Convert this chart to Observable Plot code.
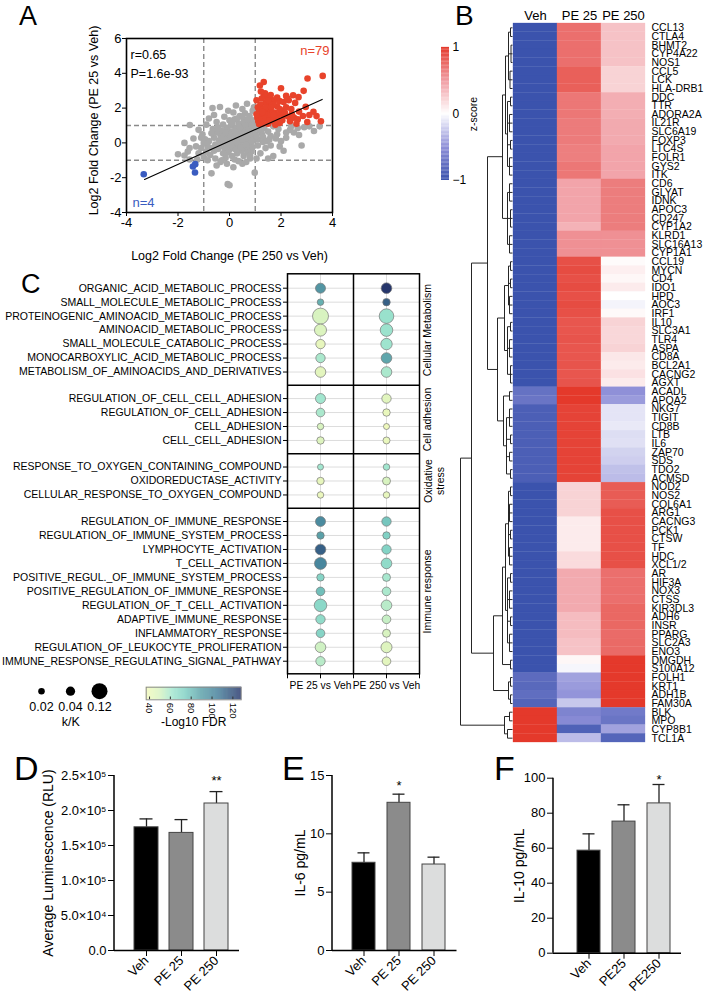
<!DOCTYPE html>
<html>
<head>
<meta charset="utf-8">
<script src="https://cdn.jsdelivr.net/npm/d3@7"></script>
<script src="https://cdn.jsdelivr.net/npm/@observablehq/plot@0.6"></script>
<style>
  html, body { margin: 0; padding: 0; background: #fff; }
  #fig { position: relative; width: 705px; height: 1000px; overflow: hidden; }
</style>
</head>
<body>
<div id="fig"></div>
<script>
// ---------- A: fold-change scatter ----------
const grayPoints = [
  [0.0,0.0],[0.2,0.1],[0.4,0.3],[0.6,0.5],[0.8,0.7],[0.1,0.4],[0.3,0.6],[0.5,0.8],[0.7,0.9],[0.9,0.4],
  [-0.1,0.2],[-0.3,-0.1],[-0.2,-0.3],[0.0,-0.4],[0.2,-0.2],[0.4,-0.1],[0.6,0.1],[0.8,0.2],[1.0,0.5],[0.95,0.85],
  [0.75,0.35],[0.55,0.15],[0.35,-0.05],[0.15,-0.3],[-0.05,-0.55],[-0.25,-0.6],[-0.45,-0.35],[-0.55,-0.1],[-0.4,0.15],[-0.2,0.35],
  [0.05,0.65],[0.25,0.85],[0.45,0.95],[0.65,0.75],[0.85,0.55],[0.3,0.2],[0.5,0.4],[0.7,0.6],[0.1,-0.1],[-0.1,-0.15],
  [0.15,0.25],[0.45,0.55],[0.62,0.28],[0.82,-0.05],[0.95,0.15],[0.25,0.45],[-0.35,0.45],[-0.6,0.3],[-0.7,-0.3],[-0.8,0.1],
  [0.05,1.0],[0.35,1.1],[0.55,1.25],[0.75,1.1],[0.9,1.3],[0.2,1.35],[-0.1,0.85],[-0.3,0.7],[0.68,-0.3],[0.48,-0.45],
  [0.3,-0.6],[0.1,-0.75],[-0.15,-0.85],[0.55,-0.75],[0.85,-0.5],[0.78,1.55],[0.6,1.7],[0.4,1.55],[0.15,1.75],[0.92,1.05],
  [0.98,0.98],[-0.5,0.6],[-0.65,0.8],[-0.95,0.2],[-0.9,-0.5],[-1.1,-0.3],[-1.05,0.5],[-0.75,-0.7],[-0.55,-0.9],[-0.35,-1.1],
  [-0.66,2.0],[-0.37,2.06],[0.25,2.15],[0.68,2.25],[0.5,1.95],[0.9,1.85],[-0.2,1.5],[0.0,1.3],[-0.5,1.2],[-0.9,1.05],
  [-1.54,1.03],[-1.2,0.75],[-0.8,1.4],[0.95,2.05],[-0.05,1.85],
  [-1.75,0.0],[-1.62,-0.5],[-2.0,-0.65],[-1.75,-0.72],[-1.55,-0.3],[-1.2,-0.6],[-1.3,-0.2],[-1.1,0.3],[-1.4,0.25],[-1.0,-0.8],
  [-1.25,-0.95],[-1.55,-0.95],[-0.85,-1.0],
  [-0.7,-1.75],[0.98,-1.71],[-0.07,-2.37],[0.0,-2.43],[0.5,-1.2],[-0.3,-1.0],[0.2,-0.95],[-0.5,-1.3],[0.35,-1.05],[0.8,-0.9],
  [0.65,-1.1],[-0.1,-1.2],[0.15,-1.4],
  [2.8,-0.15],[2.1,-0.45],[1.7,-0.75],[1.5,-0.9],[3.28,0.68],[2.9,0.9],[2.5,0.6],[2.2,0.3],[1.9,0.8],[1.6,0.4],
  [1.4,-0.3],[1.2,-0.6],[1.05,-0.9],[1.1,0.2],[1.25,0.55],[1.35,0.85],[1.5,0.65],[1.7,0.95],[1.85,0.5],[2.0,0.1],
  [2.35,0.75],[2.65,0.85],[3.1,0.95],[1.3,0.05],[1.15,0.75],[1.45,0.1],[1.6,-0.15],[1.8,0.25],[2.4,0.95],[1.95,-0.2],
  [1.05,0.4],[1.2,0.95],[2.7,0.45],[3.5,0.95],
  [0.3,0.0],[0.5,0.2],[0.7,0.4],[0.9,0.6],[0.15,0.55],[0.35,0.75],[0.55,0.6],[0.75,0.8],[0.85,1.0],[0.6,1.05],
  [0.4,0.85],[0.2,0.7],[0.0,0.5],[-0.2,0.05],[-0.4,-0.2],[-0.6,-0.45],[-0.3,0.25],[-0.15,0.6],[0.05,0.2],[0.25,-0.4],
  [0.45,-0.25],[0.65,-0.1],[0.85,0.1],[0.9,-0.25],[0.7,-0.55],[-0.85,-0.2],[-1.0,0.0],[-0.7,0.55],[-0.45,0.9],[-0.25,1.05],
  [0.3,1.4],[0.7,1.35],[0.5,1.5],[0.1,1.15],[-0.6,1.6],[0.8,-0.75],[1.1,-0.15],[1.3,0.35],[1.55,0.2],[2.2,0.6]
];
const upPoints = [
  [3.62,3.85],[3.03,3.70],[1.33,3.50],[1.18,3.30],[2.00,3.14],[2.88,2.99],[2.47,2.74],[2.20,2.70],[2.68,2.63],[1.33,2.70],
  [1.45,2.62],[1.25,2.55],[1.60,2.50],[1.75,2.45],[1.95,2.40],[2.10,2.35],[2.30,2.45],[2.55,2.30],[2.96,2.07],[3.26,1.79],
  [3.38,1.54],[3.55,1.24],[3.02,1.20],[2.85,1.55],[2.70,1.80],[2.40,1.95],[2.20,2.05],[2.05,1.85],[1.85,2.10],[1.70,2.20],
  [1.55,2.25],[1.40,2.30],[1.20,2.20],[1.10,2.05],[1.15,1.85],[1.30,1.95],[1.45,1.90],[1.60,1.85],[1.75,1.75],[1.90,1.65],
  [2.10,1.55],[2.30,1.50],[2.50,1.45],[2.65,1.35],[2.35,1.25],[2.05,1.30],[1.85,1.40],[1.65,1.50],[1.50,1.60],[1.35,1.65],
  [1.20,1.55],[1.08,1.45],[1.12,1.25],[1.25,1.35],[1.40,1.40],[1.55,1.30],[1.70,1.25],[1.95,1.15],[1.50,1.10],[1.30,1.12],
  [1.15,1.08],[1.05,1.65],[1.85,2.60],[1.42,2.05],[1.62,2.05],[1.28,1.78],[1.95,1.95],[2.15,1.75],[1.78,1.05],[2.60,1.10],
  [3.10,1.60],[2.25,2.55],[1.05,2.45],[1.38,2.85],[1.60,2.75],[2.42,1.65],[1.72,1.60],[1.50,2.45],[1.22,2.95]
];
const downPoints = [[-3.33,-1.80],[-1.42,-1.36],[-1.33,-1.22],[-1.34,-1.70]];
const foldCutoffs = [-1, 1];
const fit = {slope: 0.667, intercept: 0.1, r: "0.65", p: "1.6e-93"};
const fitEnds = [-3.3, 3.6];

// ---------- B: z-score heatmap ----------
const conditions = ["Veh", "PE 25", "PE 250"];
const genes = ["CCL13","CTLA4","BHMT2","CYP4A22","NOS1","CCL5","LCK","HLA-DRB1","DDC","TTR",
  "ADORA2A","IL21R","SLC6A19","FOXP3","LTC4S","FOLR1","GYS2","ITK","CD6","GLYAT",
  "IDNK","APOC3","CD247","CYP1A2","KLRD1","SLC16A13","CYP1A1","CCL19","MYCN","CD4",
  "IDO1","HPD","AOC3","IRF1","IL10","SLC3A1","TLR4","ASPA","CD8A","BCL2A1",
  "CACNG2","AGXT","ACADL","APOA2","NKG7","TIGIT","CD8B","LTB","IL6","ZAP70",
  "SDS","TDO2","ACMSD","NOD2","NOS2","COL6A1","ARG1","CACNG3","PCK1","CTSW",
  "TF","HDC","XCL1/2","AR","HIF3A","NOX3","CTSS","KIR3DL3","ADH6","INSR",
  "PPARG","SLC2A3","ENO3","DMGDH","S100A12","FOLH1","KRT1","ADH1B","FAM30A","BLK",
  "MPO","CYP8B1","TCL1A"];
const vehZ = [
  -1,-1,-1,-1,-1,-1,-1,-1,-1,-1,
  -1,-1,-1,-1,-1,-1,-1,-1,-1,-1,
  -1,-1,-1,-1,-1,-1,-1,-1,-1,-1,
  -1,-1,-1,-1,-1,-1,-1,-1,-1,-1,
  -1,-1,-0.75,-0.72,-0.9,-0.9,-0.9,-0.9,-0.9,-0.9,
  -0.9,-0.9,-0.9,-1,-1,-1,-1,-1,-1,-1,
  -1,-1,-1,-1,-1,-1,-1,-1,-1,-1,
  -1,-1,-1,-1,-1,-0.8,-0.82,-0.78,-0.86,1,
  1,1,1];
const pe25Z = [
  0.72,0.72,0.72,0.72,0.72,0.8,0.8,0.8,0.68,0.68,
  0.68,0.66,0.66,0.66,0.64,0.64,0.68,0.68,0.45,0.45,
  0.45,0.45,0.45,0.38,0.55,0.55,0.55,0.88,0.9,0.88,
  0.9,0.88,0.9,0.88,0.85,0.85,0.86,0.85,0.85,0.86,
  0.85,0.86,1,1,0.95,0.95,0.95,0.95,0.95,0.95,
  0.95,0.95,0.95,0.22,0.22,0.22,0.22,0.1,0.1,0.1,
  0.1,0.18,0.18,0.42,0.42,0.42,0.42,0.42,0.33,0.33,
  0.33,0.3,0.3,0.04,-0.04,-0.42,-0.45,-0.48,-0.25,-0.6,
  -0.55,-0.88,-0.3];
const pe250Z = [
  0.3,0.3,0.3,0.3,0.3,0.22,0.22,0.22,0.4,0.4,
  0.4,0.42,0.42,0.42,0.45,0.45,0.45,0.45,0.65,0.65,
  0.65,0.65,0.65,0.65,0.55,0.55,0.55,0.02,0.08,0.04,
  0.1,0.0,-0.05,0.03,0.22,0.2,0.2,0.22,0.12,0.1,
  0.15,0.1,-0.5,-0.45,-0.12,-0.12,-0.1,-0.15,-0.14,-0.2,
  -0.22,-0.28,-0.3,0.82,0.82,0.82,0.88,0.88,0.88,0.88,
  0.88,0.88,0.88,0.72,0.72,0.72,0.72,0.76,0.76,0.76,
  0.74,0.75,0.75,1,1,1,1,1,1,-0.68,
  -0.72,-0.42,-0.85];
// Row clustering: [merge height, ...children]; leaves are row indices
const rowTree = [52,
  [41,
    [25,
      [10,
        [7, [4, [2,0,1], [1.5,2,3,4], [2.5,5,6,7]],
            [5, [2,8,9], [3,10,11,12], [2,13,14], [3,15,16,17]]],
        [5, [3,18,19,20], [2,21,22,23], [3,24,25,26]]],
      [15,
        [8, [4, [2,27,28], [2,29,30], [3,31,32,33]],
            [5, [2,34,35], [3,36,37,38], [2,39,40,41]]],
        [9, [3,42,43], [6, [3,44,45,46], [2,47,48], [3,49,50], [2,51,52]]]]],
    [19,
      [10,
        [7, [4, [2,53,54], [3,55,56,57], [2,58,59], [3,60,61,62]],
            [5, [2,63,64], [3,65,66,67], [2,68,69], [3,70,71,72]]],
        [2,73,74]],
      [4, [2,75,76], [2,77,78]]]],
  [8, [3,79,80], [5,81,82]]];
const zTicks = [1, 0, -1];

// ---------- C: enrichment dot plot ----------
const goTerms = [
  "ORGANIC_ACID_METABOLIC_PROCESS",
  "SMALL_MOLECULE_METABOLIC_PROCESS",
  "PROTEINOGENIC_AMINOACID_METABOLIC_PROCESS",
  "AMINOACID_METABOLIC_PROCESS",
  "SMALL_MOLECULE_CATABOLIC_PROCESS",
  "MONOCARBOXYLIC_ACID_METABOLIC_PROCESS",
  "METABOLISM_OF_AMINOACIDS_AND_DERIVATIVES",
  "REGULATION_OF_CELL_CELL_ADHESION",
  "REGULATION_OF_CELL_ADHESION",
  "CELL_ADHESION",
  "CELL_CELL_ADHESION",
  "RESPONSE_TO_OXYGEN_CONTAINING_COMPOUND",
  "OXIDOREDUCTASE_ACTIVITY",
  "CELLULAR_RESPONSE_TO_OXYGEN_COMPOUND",
  "REGULATION_OF_IMMUNE_RESPONSE",
  "REGULATION_OF_IMMUNE_SYSTEM_PROCESS",
  "LYMPHOCYTE_ACTIVATION",
  "T_CELL_ACTIVATION",
  "POSITIVE_REGUL._OF_IMMUNE_SYSTEM_PROCESS",
  "POSITIVE_REGULATION_OF_IMMUNE_RESPONSE",
  "REGULATION_OF_T_CELL_ACTIVATION",
  "ADAPTIVE_IMMUNE_RESPONSE",
  "INFLAMMATORY_RESPONSE",
  "REGULATION_OF_LEUKOCYTE_PROLIFERATION",
  "IMMUNE_RESPONSE_REGULATING_SIGNAL_PATHWAY"];
const goGroups = ["Cellular Metabolism", "Cell adhesion", "Oxidative\nstress", "Immune response"];
const goGroupSizes = [7, 4, 3, 11];
const comparisons = ["PE 25 vs Veh", "PE 250 vs Veh"];
const kRatio25 = [0.047,0.020,0.12,0.068,0.041,0.041,0.053, 0.047,0.035,0.020,0.026, 0.017,0.026,0.020,
  0.047,0.026,0.053,0.068,0.026,0.035,0.074,0.041,0.035,0.053,0.041];
const kRatio250 = [0.053,0.026,0.10,0.074,0.061,0.053,0.053, 0.041,0.026,0.017,0.023, 0.020,0.030,0.020,
  0.041,0.026,0.041,0.053,0.030,0.035,0.053,0.035,0.030,0.057,0.035];
const fdr25 = [95,85,50,48,43,60,45, 62,60,50,47, 62,43,41, 100,90,115,102,72,80,70,68,72,52,57];
const fdr250 = [128,115,65,64,63,88,60, 46,42,40,42, 62,50,43, 78,74,73,68,61,60,57,54,50,47,45];
const sizeKeys = [0.02, 0.04, 0.12];
const fdrTicks = [40, 60, 80, 100, 120];

// ---------- D, E, F: bar charts ----------
const lumGroups = ["Veh", "PE 25", "PE 250"];
const lumMean = [1.76e5, 1.68e5, 2.10e5];
const lumSem = [0.12e5, 0.19e5, 0.17e5];
const lumSig = ["", "", "**"];
const il6Groups = ["Veh", "PE 25", "PE 250"];
const il6Mean = [7.52, 12.66, 7.37];
const il6Sem = [0.85, 0.74, 0.63];
const il6Sig = ["", "*", ""];
const il10Groups = ["Veh", "PE25", "PE250"];
const il10Mean = [58.6, 75.2, 85.6];
const il10Sem = [9.6, 9.6, 10.8];
const il10Sig = ["", "", "*"];
const barShades = ["#000000", "#8b8b8b", "#dcdddd"];

// ---------- shared settings ----------
const FONT = '"Liberation Sans", Arial, Helvetica, sans-serif';
const baseStyle = {fontFamily: FONT, background: "transparent", overflow: "visible", color: "black"};
const fig = document.getElementById("fig");
function place(node, left, top) {
  node.style.position = "absolute";
  node.style.left = left + "px";
  node.style.top = top + "px";
  node.style.margin = "0";
  fig.appendChild(node);
  return node;
}
const zColor = {type: "linear", domain: [-1, -0.5, 0, 0.5, 1],
  range: ["#3b53ad", "#8f90d8", "#ffffff", "#f09aa0", "#e4392b"], clamp: true};
const fdrColor = {type: "linear", domain: [37, 50, 62, 75, 90, 105, 128],
  range: ["#f4f9bb", "#d8f3c0", "#a2e6cf", "#7dcfc3", "#5aa0a8", "#44809a", "#26366b"], clamp: true};
const rScale = {type: "sqrt", domain: [0, 0.12], range: [0, 8]};

// ---------- A ----------
place(Plot.plot({
  width: 355, height: 270,
  marginLeft: 126, marginRight: 23, marginTop: 38, marginBottom: 58,
  style: {...baseStyle, fontSize: "13px"},
  x: {domain: [-4, 4]},
  y: {domain: [-4, 6]},
  marks: [
    Plot.ruleX(foldCutoffs, {stroke: "#8a8a8a", strokeWidth: 1.4, strokeDasharray: "5,3"}),
    Plot.ruleY(foldCutoffs, {stroke: "#8a8a8a", strokeWidth: 1.4, strokeDasharray: "5,3"}),
    Plot.dot(grayPoints, {x: d => d[0], y: d => d[1], r: 3.3, fill: "#a9a9a9"}),
    Plot.dot(upPoints, {x: d => d[0], y: d => d[1], r: 3.3, fill: "#e8432b"}),
    Plot.dot(downPoints, {x: d => d[0], y: d => d[1], r: 3.3, fill: "#3a5cc0"}),
    Plot.line(fitEnds, {x: d => d, y: d => fit.slope * d + fit.intercept, stroke: "black", strokeWidth: 1.1}),
    Plot.frame({stroke: "black", strokeWidth: 1.6}),
    Plot.axisX({ticks: [-4, -2, 0, 2, 4], tickFormat: d => String(d), tickSize: 4, tickPadding: 1, fontSize: 13, label: null}),
    Plot.axisY({ticks: [-4, -2, 0, 2, 4, 6], tickFormat: d => String(d), tickSize: 4, tickPadding: 1, fontSize: 13, label: null}),
    Plot.text(["Log2 Fold Change (PE 250 vs Veh)"], {text: d => d, frameAnchor: "bottom", dy: 43, lineAnchor: "middle", fontSize: 12.5}),
    Plot.text(["Log2 Fold Change (PE 25 vs Veh)"], {text: d => d, frameAnchor: "left", dx: -33, dy: -5, rotate: -90, textAnchor: "middle", lineAnchor: "middle", fontSize: 12.5}),
    Plot.text(["r=" + fit.r], {text: d => d, frameAnchor: "top-left", dx: 4, dy: 16.7, lineAnchor: "middle", fontSize: 12.5}),
    Plot.text(["P=" + fit.p], {text: d => d, frameAnchor: "top-left", dx: 4, dy: 35.2, lineAnchor: "middle", fontSize: 12.5}),
    Plot.text(["n=" + upPoints.length], {text: d => d, frameAnchor: "top-right", dx: -3, dy: 12, lineAnchor: "middle", fill: "#e8432b", fontSize: 13}),
    Plot.text(["n=" + downPoints.length], {text: d => d, frameAnchor: "bottom-left", dx: 6, dy: -10, lineAnchor: "middle", fill: "#3a5cc0", fontSize: 13})
  ]
}), 0, 0);

// ---------- B: heatmap ----------
const heatCells = genes.flatMap((g, i) => [
  {gene: g, cond: conditions[0], z: vehZ[i]},
  {gene: g, cond: conditions[1], z: pe25Z[i]},
  {gene: g, cond: conditions[2], z: pe250Z[i]}
]);
place(Plot.plot({
  width: 355, height: 760,
  marginLeft: 162, marginRight: 59, marginTop: 23, marginBottom: 18,
  style: {...baseStyle, fontSize: "10.5px"},
  x: {domain: conditions, padding: 0},
  y: {domain: genes, padding: 0},
  color: zColor,
  marks: [
    Plot.cell(heatCells, {x: "cond", y: "gene", fill: "z", stroke: "z", strokeWidth: 0.3}),
    Plot.axisX({anchor: "top", tickSize: 0, tickPadding: 4, fontSize: 13, label: null}),
    Plot.axisY({anchor: "right", tickSize: 0, tickPadding: 5, fontSize: 10.5, label: null})
  ]
}), 350, 0);

// dendrogram segments from the nested cluster tree
const dendroSegs = [];
function walk(node) {
  if (typeof node === "number") return {h: 0, y: node + 0.5};
  const [h, ...kids] = node;
  const laid = kids.map(walk);
  const ys = laid.map(k => k.y);
  const y0 = d3.min(ys), y1 = d3.max(ys);
  dendroSegs.push({x1: h, x2: h, y1: y0, y2: y1});
  laid.forEach(k => dendroSegs.push({x1: k.h, x2: h, y1: k.y, y2: k.y}));
  return {h, y: (y0 + y1) / 2};
}
walk(rowTree);
place(Plot.plot({
  width: 72, height: 760,
  marginLeft: 20, marginRight: 0, marginTop: 23, marginBottom: 18,
  style: baseStyle,
  x: {domain: [52, 0], axis: null},
  y: {domain: [0, genes.length], reverse: true, axis: null},
  marks: [
    Plot.link(dendroSegs, {x1: "x1", x2: "x2", y1: "y1", y2: "y2", stroke: "#262626", strokeWidth: 1})
  ]
}), 440, 0);

// z-score colour bar
const zRamp = d3.range(-1, 1, 0.02);
place(Plot.plot({
  width: 70, height: 150,
  marginLeft: 11, marginRight: 51, marginTop: 7, marginBottom: 10,
  style: {...baseStyle, fontSize: "12px"},
  x: {domain: [0, 1], axis: null},
  y: {domain: [-1, 1], axis: null},
  color: zColor,
  marks: [
    Plot.rect(zRamp, {x1: 0, x2: 1, y1: d => d, y2: d => d + 0.022, fill: d => d + 0.01}),
    Plot.text(zTicks, {x: 1, y: d => d, text: d => d < 0 ? "\u2212" + Math.abs(d) : String(d), dx: 3, textAnchor: "start", fontSize: 12}),
    Plot.text(["z-score"], {text: d => d, frameAnchor: "right", dx: 24, rotate: -90, textAnchor: "middle", lineAnchor: "middle", fontSize: 10.5})
  ]
}), 430, 40);

// ---------- C: dot plot ----------
const goRows = [];
{
  let idx = 0;
  goGroupSizes.forEach((n, g) => {
    for (let j = 0; j < n; j++, idx++) goRows.push({term: goTerms[idx], group: g, pos: idx + 0.9 * g});
  });
}
const termByPos = new Map(goRows.map(d => [d.pos, d.term]));
const goDots = goRows.flatMap((d, i) => [
  {col: 0.5, pos: d.pos, k: kRatio25[i], fdr: fdr25[i]},
  {col: 1.5, pos: d.pos, k: kRatio250[i], fdr: fdr250[i]}
]);
const groupSpans = goGroups.map((name, g) => {
  const ps = goRows.filter(d => d.group === g).map(d => d.pos);
  return {name, g, first: d3.min(ps), last: d3.max(ps), center: (d3.min(ps) + d3.max(ps)) / 2};
});
const dividers = groupSpans.slice(1).map((s, i) => (groupSpans[i].last + s.first) / 2);
const colNames = new Map([[0.5, comparisons[0]], [1.5, comparisons[1]]]);

place(Plot.plot({
  width: 455, height: 440,
  marginLeft: 287, marginRight: 36, marginTop: 11.3, marginBottom: 28.7,
  style: {...baseStyle, fontSize: "10.5px"},
  x: {domain: [0, 2]},
  y: {domain: [-1.03, 27.6], reverse: true},
  r: rScale,
  color: fdrColor,
  marks: [
    Plot.ruleY(goRows, {y: "pos", stroke: "#dddddd", strokeWidth: 1}),
    Plot.ruleX([0.5, 1.5], {stroke: "#dddddd", strokeWidth: 1}),
    Plot.dot(goDots, {x: "col", y: "pos", r: "k", fill: "fdr", stroke: "#777777", strokeWidth: 0.7}),
    Plot.ruleY(dividers, {stroke: "black", strokeWidth: 1.5}),
    Plot.ruleX([1], {stroke: "black", strokeWidth: 1.5}),
    Plot.frame({stroke: "black", strokeWidth: 1.5}),
    Plot.axisY({ticks: goRows.map(d => d.pos), tickFormat: p => termByPos.get(p), tickSize: 4, tickPadding: 2, fontSize: 10.5, label: null}),
    Plot.axisX({ticks: [0, 0.5, 1, 1.5, 2], tickFormat: v => colNames.get(v) ?? "", tickSize: 5, tickPadding: 3, fontSize: 10.3, label: null}),
    Plot.text(groupSpans.filter(s => !s.name.includes("\n")), {x: 2, y: "center", text: "name", dx: 8, rotate: -90, textAnchor: "middle", lineAnchor: "middle", fontSize: 10.5}),
    Plot.text(groupSpans.filter(s => s.name.includes("\n")), {x: 2, y: "center", text: "name", dx: 14.5, rotate: -90, textAnchor: "middle", lineAnchor: "middle", fontSize: 10.5, lineHeight: 1.2})
  ]
}), 0, 262);

// size legend (k/K)
place(Plot.plot({
  width: 130, height: 60,
  marginLeft: 40.5, marginRight: 30, marginTop: 0, marginBottom: 0,
  style: {...baseStyle, fontSize: "12.5px"},
  x: {type: "point", domain: sizeKeys.map(d => d.toFixed(2)), padding: 0, axis: null},
  r: rScale,
  marks: [
    Plot.dot(sizeKeys, {x: d => d.toFixed(2), r: d => d, fill: "black", frameAnchor: "top", dy: 15.7}),
    Plot.text(sizeKeys, {x: d => d.toFixed(2), text: d => d.toFixed(2), frameAnchor: "top", dy: 31.7, lineAnchor: "middle", fontSize: 12.5}),
    Plot.text(["k/K"], {text: d => d, frameAnchor: "top", dy: 46.7, lineAnchor: "middle", fontSize: 12.5})
  ]
}), 0, 675);

// -log10 FDR colour ramp
const fdrRamp = d3.range(36.8, 128, 0.5);
place(Plot.plot({
  width: 130, height: 60,
  marginLeft: 15.7, marginRight: 19.3, marginTop: 11.7, marginBottom: 35.7,
  style: {...baseStyle, fontSize: "9.5px"},
  x: {domain: [36.8, 128]},
  y: {domain: [0, 1], axis: null},
  color: fdrColor,
  marks: [
    Plot.rect(fdrRamp, {x1: d => d, x2: d => d + 0.6, y1: 0, y2: 1, fill: d => d + 0.25}),
    Plot.ruleX(fdrTicks, {y1: 0, y2: 0.22, stroke: "#333333"}),
    Plot.frame({stroke: "#8a8a8a"}),
    Plot.axisX({ticks: fdrTicks, tickSize: 0, tickPadding: 3, tickRotate: 90, fontSize: 9.5, label: null}),
    Plot.text(["-Log10 FDR"], {text: d => d, frameAnchor: "bottom", dy: 22.4, lineAnchor: "middle", fontSize: 12})
  ]
}), 130, 675);

// ---------- D, E, F ----------
function leftSpine(index, scales, values, dim) {
  const l = document.createElementNS("http://www.w3.org/2000/svg", "line");
  l.setAttribute("x1", dim.marginLeft);
  l.setAttribute("x2", dim.marginLeft);
  l.setAttribute("y1", dim.marginTop);
  l.setAttribute("y2", dim.height - dim.marginBottom);
  l.setAttribute("stroke", "black");
  l.setAttribute("stroke-width", 1.5);
  return l;
}
const supDigits = {"4": "\u2074", "5": "\u2075"};
function sciTick(v) {
  if (v === 0) return "0.0";
  const e = Math.floor(Math.log10(v) + 1e-9);
  return (v / 10 ** e).toFixed(1) + "\u00d710" + supDigits[e];
}
function barPanel(o) {
  const rows = o.groups.map((g, i) => ({g, v: o.mean[i], top: o.mean[i] + o.sem[i], sig: o.sig[i], shade: barShades[i]}));
  return Plot.plot({
    width: o.width, height: 250,
    marginLeft: o.ml, marginRight: o.mr, marginTop: o.mt, marginBottom: 250 - o.mt - 175,
    style: {...baseStyle, fontSize: "13px"},
    x: {type: "band", domain: o.groups, paddingInner: o.pi, paddingOuter: o.po, align: o.align},
    y: {domain: o.yDomain},
    color: {type: "identity"},
    marks: [
      Plot.ruleX(rows, {x: "g", y1: "v", y2: "top", stroke: "#222222", strokeWidth: 1.3}),
      Plot.tickY(rows, {x: "g", y: "top", insetLeft: 5.5, insetRight: 5.5, stroke: "#222222", strokeWidth: 1.3}),
      Plot.barY(rows, {x: "g", y: "v", fill: "shade", stroke: "#444444", strokeWidth: 1}),
      Plot.text(rows.filter(d => d.sig), {x: "g", y: "top", text: "sig", dy: o.starDy, lineAnchor: "middle", fontSize: 13}),
      Plot.ruleY([0], {stroke: "black", strokeWidth: 1.5}),
      leftSpine,
      Plot.axisY({ticks: o.ticks, tickFormat: o.tickFormat, tickSize: 6, tickPadding: 2, fontSize: 13, label: null}),
      Plot.axisX({tickSize: 6, tickPadding: 2, tickRotate: -45, fontSize: 13, label: null}),
      Plot.text([o.label], {text: d => d, frameAnchor: "left", dx: o.labelDx, rotate: -90, textAnchor: "middle", lineAnchor: "middle", fontSize: 14})
    ]
  });
}
place(barPanel({groups: lumGroups, mean: lumMean, sem: lumSem, sig: lumSig,
  width: 245, ml: 114, mr: 6, mt: 25, pi: 0.32, po: 0.43, align: 0.625,
  yDomain: [0, 2.5e5], ticks: [0, 5e4, 1e5, 1.5e5, 2e5, 2.5e5], tickFormat: sciTick,
  label: "Average Luminescence (RLU)", labelDx: -66, starDy: -11}), 0, 750);
place(barPanel({groups: il6Groups, mean: il6Mean, sem: il6Sem, sig: il6Sig,
  width: 220, ml: 87, mr: 8.5, mt: 25, pi: 0.345, po: 0.45, align: 0.635,
  yDomain: [0, 15], ticks: [0, 5, 10, 15], tickFormat: d => String(d),
  label: "IL-6 pg/mL", labelDx: -32, starDy: -8}), 245, 750);
place(barPanel({groups: il10Groups, mean: il10Mean, sem: il10Sem, sig: il10Sig,
  width: 240, ml: 88, mr: 24, mt: 27.7, pi: 0.336, po: 0.49, align: 0.68,
  yDomain: [0, 100], ticks: [0, 20, 40, 60, 80, 100], tickFormat: d => String(d),
  label: "IL-10 pg/mL", labelDx: -34, starDy: -5}), 465, 750);

// ---------- panel letters ----------
const overlay = d3.create("svg")
  .attr("width", 705).attr("height", 1000)
  .style("position", "absolute").style("left", "0px").style("top", "0px")
  .style("pointer-events", "none");
overlay.selectAll("text")
  .data([{t: "A", x: 19, y: 25, s: 27}, {t: "B", x: 455, y: 25, s: 28}, {t: "C", x: 21, y: 293, s: 27},
         {t: "D", x: 14, y: 780, s: 34}, {t: "E", x: 282, y: 780, s: 34}, {t: "F", x: 494, y: 780, s: 34}])
  .join("text")
  .attr("x", d => d.x).attr("y", d => d.y)
  .attr("font-family", FONT).attr("font-size", d => d.s)
  .text(d => d.t);
fig.appendChild(overlay.node());
</script>
</body>
</html>
